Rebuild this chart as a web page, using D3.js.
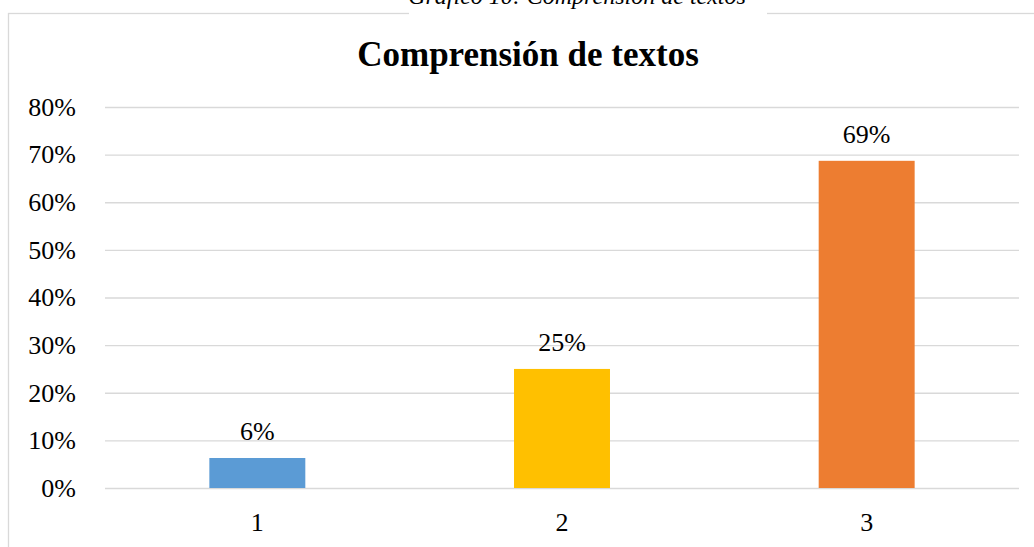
<!DOCTYPE html>
<html>
<head>
<meta charset="utf-8">
<script src="https://cdn.jsdelivr.net/npm/d3@7"></script>
<style>
  body { margin: 0; background: #fff; }
  svg { display: block; }
</style>
</head>
<body>
<div id="chart"></div>
<script>
// data
const categories = ['1', '2', '3']
const values = [0.063, 0.25, 0.687]
const labels = ['6%', '25%', '69%']
const colors = ['#5b9bd5', '#ffc000', '#ed7d31']
const yTicks = [0, 0.1, 0.2, 0.3, 0.4, 0.5, 0.6, 0.7, 0.8]

const width = 1034,
height = 547,
plotLeft = 105,
plotRight = 1019,
plotTop = 107,
plotBottom = 488

const serif = 'Liberation Serif'

let svg = d3.select('#chart')
  .append('svg')
  .attr('width', width)
  .attr('height', height)

// chart frame (runs off the right and bottom edges)
svg.append('rect')
  .attr('x', 8.5)
  .attr('y', 13.5)
  .attr('width', 1100)
  .attr('height', 600)
  .attr('fill', '#fff')
  .attr('stroke', '#d9d9d9')
  .attr('stroke-width', 1.3)

// caption over the frame, cut at the top
svg.append('rect')
  .attr('x', 409)
  .attr('y', 0)
  .attr('width', 358)
  .attr('height', 16)
  .attr('fill', '#fff')

svg.append('text')
  .attr('x', 577)
  .attr('y', 4)
  .attr('text-anchor', 'middle')
  .attr('font-family', serif)
  .attr('font-style', 'italic')
  .attr('font-size', 24)
  .text('Gráfico 10: Comprensión de textos')

svg.append('text')
  .attr('x', 528)
  .attr('y', 66)
  .attr('text-anchor', 'middle')
  .attr('font-family', serif)
  .attr('font-weight', 'bold')
  .attr('font-size', 35)
  .text('Comprensión de textos')

const x = d3.scaleBand()
  .domain(categories)
  .range([plotLeft, plotRight])
  .paddingInner(0.685)
  .paddingOuter(0.3425)

const y = d3.scaleLinear()
  .domain([0, 0.8])
  .range([plotBottom, plotTop])

// gridlines + y labels
const yAxis = d3.axisLeft(y)
  .tickValues(yTicks)
  .tickFormat(d3.format('.0%'))
  .tickSize(-(plotRight - plotLeft))
  .tickPadding(29)

svg.append('g')
  .attr('transform', `translate(${plotLeft},0)`)
  .call(yAxis)
  .attr('font-family', serif)
  .attr('font-size', 26)
  .call(g => g.select('.domain').remove())
  .call(g => g.selectAll('line').attr('stroke', '#d9d9d9').attr('stroke-width', 1.3))
  .call(g => g.selectAll('text').attr('fill', '#000'))

// x labels
const xAxis = d3.axisBottom(x).tickSize(0).tickPadding(25)
svg.append('g')
  .attr('transform', `translate(0,${plotBottom})`)
  .call(xAxis)
  .attr('font-family', serif)
  .attr('font-size', 26)
  .call(g => g.select('.domain').remove())
  .call(g => g.selectAll('text').attr('fill', '#000'))

svg.selectAll('rect.bar')
  .data(values)
  .enter()
  .append('rect')
  .attr('class', 'bar')
  .attr('x', (d, i) => x(categories[i]))
  .attr('y', d => y(d))
  .attr('width', x.bandwidth())
  .attr('height', d => plotBottom - y(d))
  .attr('fill', (d, i) => colors[i])

svg.selectAll('text.lbl')
  .data(values)
  .enter()
  .append('text')
  .attr('class', 'lbl')
  .attr('x', (d, i) => x(categories[i]) + x.bandwidth() / 2)
  .attr('y', d => y(d) - 18)
  .attr('text-anchor', 'middle')
  .attr('font-family', serif)
  .attr('font-size', 26)
  .text((d, i) => labels[i])
</script>
</body>
</html>
